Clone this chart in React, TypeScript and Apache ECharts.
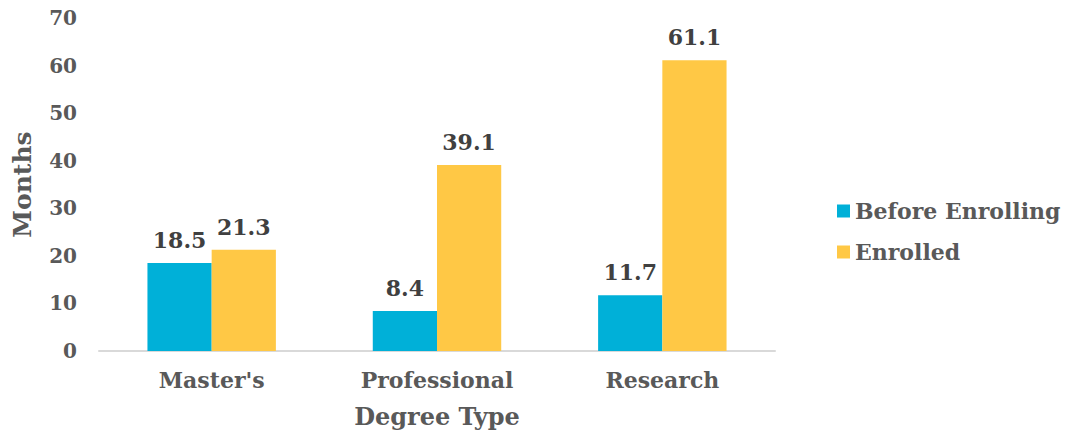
import React, { useEffect, useRef } from "react";
import * as echarts from "echarts";

const categories = ["Master's", "Professional", "Research"];
const beforeEnrolling = [18.5, 8.4, 11.7];
const enrolled = [21.3, 39.1, 61.1];
const seriesNames = ["Before Enrolling", "Enrolled"];

const FONT = "'DejaVu Serif', Georgia, serif";
const TEXT = "#595959";

export default function App() {
  const ref = useRef<HTMLDivElement>(null);

  useEffect(() => {
    document.body.style.margin = "0";
    if (!ref.current) return;
    const chart = echarts.init(ref.current, undefined, { renderer: "svg" });
    const label = {
      show: true,
      position: "top",
      distance: 12,
      color: "#404040",
      fontFamily: FONT,
      fontWeight: "bold",
      fontSize: 22,
      formatter: (p: any) => p.value.toFixed(1),
    };
    chart.setOption({
      animation: false,
      textStyle: { fontFamily: FONT },
      grid: { left: 99, right: 293, top: 18, bottom: 85 },
      legend: {
        orient: "vertical",
        left: 832,
        top: 195,
        itemWidth: 13,
        itemHeight: 13,
        itemGap: 19,
        icon: "rect",
        data: seriesNames,
        textStyle: { color: TEXT, fontFamily: FONT, fontWeight: "bold", fontSize: 22 },
      },
      xAxis: {
        type: "category",
        data: categories,
        name: "Degree Type",
        nameLocation: "middle",
        nameGap: 53,
        nameTextStyle: { color: TEXT, fontFamily: FONT, fontWeight: "bold", fontSize: 24 },
        axisLine: { lineStyle: { color: "#d9d9d9", width: 2 } },
        axisTick: { show: false },
        axisLabel: { color: TEXT, fontFamily: FONT, fontWeight: "bold", fontSize: 22, margin: 18 },
      },
      yAxis: {
        type: "value",
        min: 0,
        max: 70,
        interval: 10,
        name: "Months",
        nameLocation: "middle",
        nameGap: 64,
        nameRotate: 90,
        nameTextStyle: { color: TEXT, fontFamily: FONT, fontWeight: "bold", fontSize: 25 },
        splitLine: { show: false },
        axisLine: { show: false },
        axisTick: { show: false },
        axisLabel: { color: TEXT, fontFamily: FONT, fontWeight: "bold", fontSize: 20, margin: 22 },
      },
      series: [
        {
          name: seriesNames[0],
          type: "bar",
          data: beforeEnrolling,
          barGap: "0%",
          barCategoryGap: "43%",
          itemStyle: { color: "#00B0D8" },
          label,
        },
        {
          name: seriesNames[1],
          type: "bar",
          data: enrolled,
          barGap: "0%",
          barCategoryGap: "43%",
          itemStyle: { color: "#FFC845" },
          label,
        },
      ],
    });
    return () => chart.dispose();
  }, []);

  return <div ref={ref} style={{ width: 1068, height: 436 }} />;
}
